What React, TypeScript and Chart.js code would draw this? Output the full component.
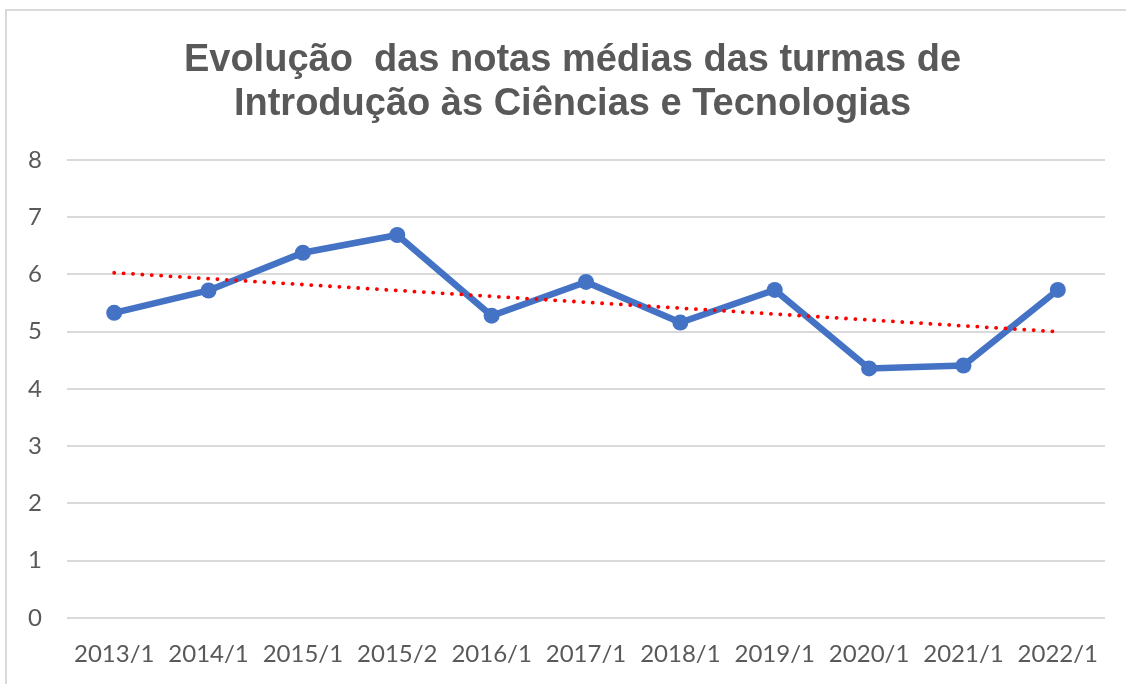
import React, { useEffect, useRef } from "react";
import { Chart, registerables } from "chart.js";

Chart.register(...registerables);

const categories = ["2013/1", "2014/1", "2015/1", "2015/2", "2016/1", "2017/1", "2018/1", "2019/1", "2020/1", "2021/1", "2022/1"];
const mediaValues = [5.33, 5.72, 6.38, 6.69, 5.28, 5.87, 5.16, 5.73, 4.36, 4.41, 5.73];
const trendValues = [6.03, null, null, null, null, null, null, null, null, null, 5.0];
const titleLines = ["Evolução  das notas médias das turmas de", "Introdução às Ciências e Tecnologias"];
const yMin = 0;
const yMax = 8;
const yStep = 1;

const titleShift = {
  id: "titleShift",
  afterLayout(chart: any) {
    const tb = chart.titleBlock;
    if (tb) {
      tb.left += 20;
      tb.right += 20;
    }
  },
};

export default function App() {
  const ref = useRef<HTMLCanvasElement | null>(null);
  useEffect(() => {
    if (!ref.current) return;
    const chart = new Chart(ref.current, {
      type: "line",
      data: {
        labels: categories,
        datasets: [
          {
            label: "Média",
            data: mediaValues,
            borderColor: "#4472C4",
            backgroundColor: "#4472C4",
            borderWidth: 6.5,
            pointRadius: 8,
            pointHoverRadius: 8,
            pointBorderWidth: 0,
            tension: 0,
            order: 1,
          },
          {
            label: "Tendência",
            data: trendValues,
            borderColor: "#FF0000",
            borderWidth: 3.8,
            borderDash: [0.1, 9.3],
            borderCapStyle: "round",
            pointRadius: 0,
            spanGaps: true,
            order: 0,
          },
        ],
      },
      options: {
        responsive: false,
        animation: false,
        layout: { padding: { left: 0, right: 21, top: 0, bottom: 0 } },
        plugins: {
          legend: { display: false },
          tooltip: { enabled: false },
          title: {
            display: true,
            text: titleLines,
            color: "#595959",
            font: { family: "'Liberation Sans', Arial, sans-serif", size: 38, weight: "bold", lineHeight: 1.18 },
            padding: { top: 37.6, bottom: 32.7 },
          },
        },
        scales: {
          x: {
            offset: true,
            grid: { display: false, drawTicks: false },
            border: { display: false },
            ticks: {
              color: "#595959",
              font: { family: "Lato, 'Liberation Sans', sans-serif", size: 24 },
              padding: 22,
              maxRotation: 0,
              autoSkip: false,
            },
            afterFit: (s: any) => { s.height = 66; },
          },
          y: {
            min: yMin,
            max: yMax,
            grid: { color: "#D9D9D9", lineWidth: 2, drawTicks: false },
            border: { display: false },
            ticks: {
              stepSize: yStep,
              color: "#595959",
              font: { family: "Lato, 'Liberation Sans', sans-serif", size: 24 },
              padding: 25,
            },
            afterFit: (s: any) => { s.width = 67; },
          },
        },
      },
      plugins: [titleShift],
    });
    return () => chart.destroy();
  }, []);
  return (
    <div style={{ position: "fixed", left: 0, top: 0, width: 1126, height: 684, background: "#fff", overflow: "hidden" }}>
      <div style={{ position: "absolute", left: 5, top: 9, right: -10, bottom: -10, borderLeft: "2px solid #D9D9D9", borderTop: "2px solid #D9D9D9" }} />
      <canvas ref={ref} width={1126} height={684} style={{ position: "absolute", left: 0, top: 0 }} />
    </div>
  );
}
